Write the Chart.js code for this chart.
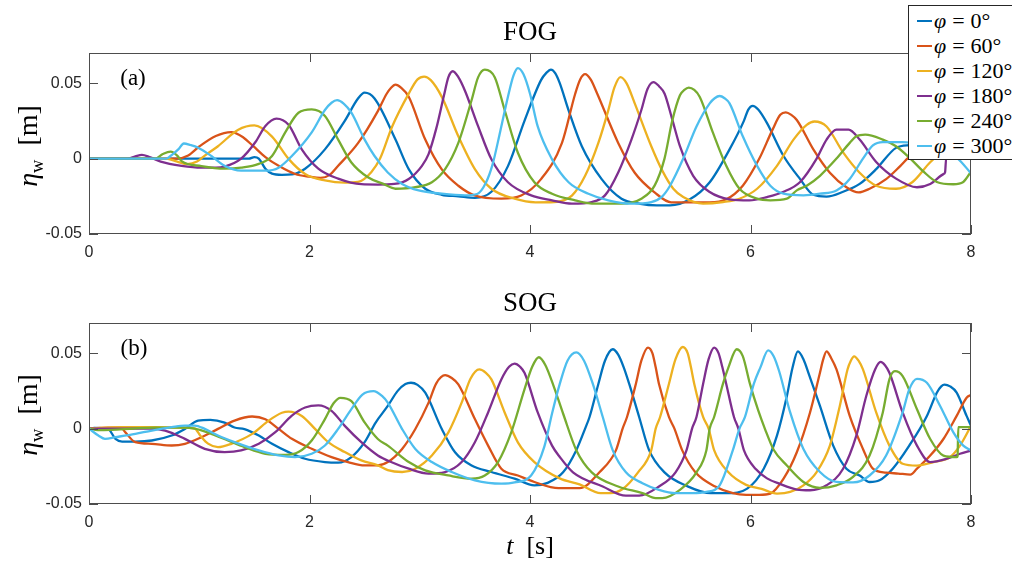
<!DOCTYPE html>
<html>
<head>
<meta charset="utf-8">
<script src="https://cdn.jsdelivr.net/npm/chart.js@4"></script>
<style>
  html, body { margin: 0; padding: 0; background: #fff; overflow: hidden; }
  #wrap { position: relative; width: 1012px; height: 562px; overflow: hidden; }
  canvas { position: absolute; left: 0; }
  .txt { position: absolute; font-family: "Liberation Serif", serif; color: #000; white-space: nowrap; transform: translate(-50%, -50%); line-height: 1; }
  .ylab { transform: translate(-50%, -50%) rotate(-90deg); }
  sub { font-size: 0.66em; vertical-align: -0.3em; line-height: 0; }
  #legend { position: absolute; left: 908px; top: 5px; width: 120px; height: 153px; border: 1px solid #262626; background: #fff; }
  .row { position: absolute; left: 0; height: 25px; line-height: 25px; font-family: "Liberation Serif", serif; font-size: 22px; white-space: nowrap; }
  .row span.ln { position: absolute; left: 8px; top: 12px; width: 15px; height: 2px; }
  .row span.tx { position: absolute; left: 25px; top: 0; }
  .row span.eq { margin: 0 6px; }
</style>
</head>
<body>
<div id="wrap">
  <canvas id="fogChart" width="1012" height="262" style="top:0"></canvas>
  <canvas id="sogChart" width="1012" height="262" style="top:270px"></canvas>

  <div class="txt" style="left:530px; top:31px; font-size:27px">FOG</div>
  <div class="txt" style="left:530px; top:302px; font-size:27px">SOG</div>
  <div class="txt" style="left:133px; top:77px; font-size:23px">(a)</div>
  <div class="txt" style="left:134px; top:347px; font-size:23px">(b)</div>
  <div class="txt ylab" style="left:28px; top:146px; font-size:28px"><i>η</i><sub>w</sub>&nbsp;&nbsp;[m]</div>
  <div class="txt ylab" style="left:28px; top:415px; font-size:28px"><i>η</i><sub>w</sub>&nbsp;&nbsp;[m]</div>
  <div class="txt" style="left:530px; top:546px; font-size:26px"><i>t</i>&nbsp;&nbsp;[s]</div>
  <div id="legend"></div>
</div>

<script>
// axis ticks
const xTicks = [0, 2, 4, 6, 8];
const xTickLabels = ['0', '2', '4', '6', '8'];
const yTicks = [-0.05, 0, 0.05];
const yTickLabels = ['-0.05', '0', '0.05'];

// wave phases, one series each
const phases = [0, 60, 120, 180, 240, 300];
const colors = ['#0072BD', '#D95319', '#EDB120', '#7E2F8E', '#77AC30', '#4DBEEE'];

// (a) FOG, [t (s), eta (m)]
const fog0 = [[0,0],[1.45,0],[1.50,0.001],[1.54,0],[1.60,-0.0067],[1.66,-0.010],[1.75,-0.0108],[1.84,-0.0105],[1.96,-0.0067],[2.14,0.0061],[2.32,0.025],[2.44,0.0398],[2.50,0.0437],[2.59,0.0398],[2.78,0.0126],[2.90,-0.007],[3.05,-0.020],[3.20,-0.024],[3.35,-0.025],[3.50,-0.026],[3.65,-0.022],[3.80,-0.005],[3.95,0.025],[4.10,0.052],[4.15,0.057],[4.19,0.059],[4.23,0.0565],[4.27,0.050],[4.35,0.032],[4.47,0.0082],[4.65,-0.0136],[4.83,-0.0266],[5.0,-0.030],[5.15,-0.031],[5.27,-0.031],[5.45,-0.027],[5.63,-0.0157],[5.81,0.0061],[5.94,0.025],[5.98,0.0325],[6.02,0.035],[6.07,0.0325],[6.15,0.0235],[6.30,0.0017],[6.45,-0.0136],[6.57,-0.024],[6.69,-0.0252],[6.84,-0.022],[6.99,-0.0168],[7.14,-0.007],[7.32,0.0071],[7.45,0.009],[7.65,0.010],[8,0.004]];
const fog60 = [[0,0],[0.8,0],[0.9,0.002],[1.0,0.008],[1.15,0.015],[1.29,0.0176],[1.40,0.014],[1.49,0.0082],[1.60,0.001],[1.72,-0.0048],[1.87,-0.0102],[2.0,-0.012],[2.10,-0.0128],[2.18,-0.011],[2.26,-0.0048],[2.44,0.0102],[2.62,0.0315],[2.70,0.043],[2.74,0.047],[2.78,0.049],[2.83,0.047],[2.90,0.041],[3.05,0.0126],[3.20,-0.0072],[3.35,-0.018],[3.50,-0.0245],[3.74,-0.0266],[3.92,-0.0245],[4.10,-0.0136],[4.29,0.0104],[4.41,0.043],[4.455,0.0525],[4.50,0.056],[4.55,0.0525],[4.61,0.043],[4.80,0.0104],[4.95,-0.0094],[5.13,-0.0224],[5.28,-0.029],[5.45,-0.029],[5.63,-0.029],[5.78,-0.027],[5.93,-0.018],[6.08,0.0],[6.20,0.0192],[6.27,0.029],[6.32,0.0307],[6.37,0.029],[6.42,0.0256],[6.57,0.0061],[6.72,-0.0094],[6.87,-0.019],[6.98,-0.0224],[7.08,-0.020],[7.23,-0.0136],[7.36,-0.0048],[7.45,0.0017],[7.7,0.010],[8,0.012]];
const fog120 = [[0,0],[0.7,0],[0.8,-0.002],[0.89,-0.0037],[0.98,-0.002],[1.05,0.002],[1.17,0.0082],[1.35,0.019],[1.50,0.022],[1.66,0.0146],[1.81,-0.0002],[1.96,-0.0102],[2.14,-0.0145],[2.32,-0.016],[2.44,-0.0155],[2.56,-0.009],[2.64,0.0],[2.75,0.0213],[2.90,0.0431],[2.98,0.0525],[3.04,0.0544],[3.10,0.052],[3.20,0.0409],[3.35,0.0148],[3.50,-0.007],[3.65,-0.020],[3.86,-0.0266],[4.05,-0.029],[4.22,-0.0288],[4.38,-0.0245],[4.50,-0.0114],[4.62,0.0104],[4.71,0.032],[4.765,0.047],[4.82,0.054],[4.875,0.050],[4.95,0.0366],[5.10,0.0082],[5.20,-0.008],[5.30,-0.020],[5.39,-0.0255],[5.57,-0.0298],[5.75,-0.0288],[5.90,-0.0266],[6.06,-0.020],[6.24,-0.0048],[6.39,0.0126],[6.51,0.0224],[6.58,0.0246],[6.69,0.0213],[6.84,0.0041],[6.99,-0.0094],[7.14,-0.018],[7.32,-0.020],[7.47,-0.0155],[7.63,-0.0024],[7.8,0.008],[8,0.012]];
const fog180 = [[0,0],[0.35,0],[0.42,0.0015],[0.48,0.0025],[0.55,0.001],[0.65,-0.002],[0.84,-0.0048],[1.02,-0.006],[1.15,-0.006],[1.23,-0.0053],[1.38,0.0],[1.51,0.011],[1.60,0.0216],[1.70,0.0265],[1.81,0.0224],[1.93,0.0061],[2.08,-0.0067],[2.26,-0.0133],[2.47,-0.017],[2.62,-0.0172],[2.77,-0.0168],[2.90,-0.0135],[3.02,-0.0048],[3.08,0.003],[3.15,0.020],[3.22,0.042],[3.26,0.054],[3.30,0.0579],[3.35,0.054],[3.41,0.045],[3.53,0.0213],[3.65,-0.0005],[3.80,-0.0157],[4.01,-0.0244],[4.20,-0.0277],[4.38,-0.0299],[4.56,-0.0288],[4.68,-0.0244],[4.80,-0.0092],[4.92,0.0126],[5.01,0.0322],[5.065,0.046],[5.12,0.0507],[5.17,0.048],[5.22,0.0431],[5.29,0.026],[5.36,0.0082],[5.48,-0.0114],[5.63,-0.0222],[5.81,-0.027],[5.99,-0.0277],[6.15,-0.0255],[6.30,-0.022],[6.45,-0.0155],[6.60,0.0],[6.69,0.0126],[6.78,0.0192],[6.89,0.0192],[6.99,0.0126],[7.14,-0.0022],[7.32,-0.0133],[7.51,-0.019],[7.63,-0.0168],[7.75,-0.0103],[7.765,-0.009],[7.775,0.0005],[8,0.001]];
const fog240 = [[0,0],[0.6,0],[0.67,0.003],[0.74,0.0046],[0.80,0.002],[0.84,-0.0017],[1.02,-0.005],[1.23,-0.0067],[1.38,-0.006],[1.54,-0.0035],[1.66,0.0017],[1.78,0.0174],[1.90,0.0304],[2.02,0.0326],[2.14,0.0283],[2.26,0.0126],[2.38,-0.0026],[2.53,-0.0124],[2.67,-0.0168],[2.78,-0.020],[2.96,-0.019],[3.11,-0.0157],[3.23,-0.007],[3.35,0.0104],[3.47,0.0387],[3.53,0.054],[3.59,0.059],[3.68,0.054],[3.77,0.0322],[3.89,0.0039],[4.04,-0.0157],[4.20,-0.0233],[4.41,-0.0277],[4.59,-0.0299],[4.83,-0.0299],[5.01,-0.0266],[5.13,-0.0179],[5.22,0.0],[5.29,0.025],[5.36,0.042],[5.40,0.0455],[5.44,0.047],[5.49,0.0455],[5.54,0.0409],[5.66,0.017],[5.78,-0.0048],[5.90,-0.020],[6.06,-0.0266],[6.18,-0.0277],[6.33,-0.0266],[6.42,-0.0211],[6.51,-0.018],[6.63,-0.0114],[6.78,0.0],[6.90,0.0104],[6.96,0.0148],[7.04,0.0159],[7.20,0.0126],[7.32,0.0082],[7.45,0.0],[7.57,-0.0087],[7.69,-0.0155],[7.84,-0.017],[7.93,-0.0155],[8,-0.0087]];
const fog300 = [[0,0],[0.7,0],[0.76,0.003],[0.81,0.0061],[0.86,0.010],[0.92,0.009],[0.99,0.0072],[1.11,0.0017],[1.23,-0.0048],[1.38,-0.008],[1.60,-0.008],[1.72,-0.006],[1.84,0.0017],[2.02,0.0174],[2.14,0.0322],[2.20,0.037],[2.25,0.0387],[2.31,0.0365],[2.38,0.0304],[2.50,0.0126],[2.59,0.0017],[2.71,-0.0092],[2.84,-0.0168],[2.99,-0.0211],[3.20,-0.0233],[3.41,-0.0244],[3.52,-0.0235],[3.60,-0.016],[3.66,-0.004],[3.73,0.018],[3.80,0.041],[3.85,0.055],[3.89,0.060],[3.94,0.056],[4.00,0.043],[4.07,0.0213],[4.20,-0.0005],[4.35,-0.0157],[4.53,-0.0233],[4.71,-0.0277],[4.92,-0.0299],[5.10,-0.0288],[5.20,-0.025],[5.27,-0.018],[5.39,0.0],[5.51,0.0213],[5.63,0.0366],[5.675,0.040],[5.72,0.0415],[5.765,0.040],[5.81,0.0366],[5.93,0.0148],[6.06,-0.0048],[6.18,-0.018],[6.30,-0.0233],[6.48,-0.0244],[6.63,-0.0233],[6.78,-0.0211],[6.90,-0.0135],[7.02,0.0],[7.11,0.0087],[7.20,0.0109],[7.38,0.0109],[7.6,0.008],[7.8,0.003],[7.88,0.0],[8,-0.0098]];

// (b) SOG
const sog0 = [[0,0],[0.05,0.0005],[0.17,0],[0.24,-0.0068],[0.30,-0.0086],[0.42,-0.0086],[0.57,-0.0079],[0.75,-0.0046],[0.87,-0.0002],[0.99,0.0053],[1.10,0.0058],[1.23,0.0040],[1.32,0.0007],[1.41,-0.0003],[1.54,-0.0046],[1.66,-0.0101],[1.81,-0.0156],[1.96,-0.0200],[2.14,-0.0222],[2.26,-0.0226],[2.38,-0.0189],[2.50,-0.0090],[2.60,0.004],[2.71,0.0150],[2.80,0.0250],[2.87,0.0295],[2.92,0.0304],[2.98,0.0290],[3.05,0.0238],[3.20,-0.0003],[3.32,-0.0157],[3.47,-0.0245],[3.65,-0.0288],[3.86,-0.0332],[4.04,-0.0376],[4.16,-0.036],[4.30,-0.029],[4.42,-0.0143],[4.50,0.0],[4.54,0.0077],[4.62,0.0296],[4.68,0.045],[4.75,0.0526],[4.80,0.049],[4.85,0.0406],[4.90,0.0296],[4.99,0.0077],[5.08,-0.0143],[5.22,-0.029],[5.43,-0.0383],[5.64,-0.0428],[5.79,-0.0428],[5.97,-0.0398],[6.12,-0.0266],[6.24,-0.0047],[6.33,0.0216],[6.38,0.040],[6.43,0.0512],[6.48,0.046],[6.53,0.036],[6.63,0.0150],[6.75,-0.0113],[6.87,-0.0266],[6.99,-0.0311],[7.08,-0.0354],[7.17,-0.0343],[7.29,-0.0266],[7.44,-0.0113],[7.60,0.0084],[7.69,0.0238],[7.73,0.0280],[7.76,0.0292],[7.81,0.0280],[7.87,0.0238],[7.96,0.0084],[8,0.0018]];
const sog60 = [[0,0],[0.17,0.0007],[0.29,0.0007],[0.33,-0.0025],[0.42,-0.0090],[0.57,-0.0101],[0.75,-0.0112],[0.87,-0.0101],[1.02,-0.0057],[1.17,-0.0002],[1.32,0.0053],[1.48,0.0080],[1.60,0.0062],[1.72,-0.0002],[1.84,-0.0068],[2.02,-0.0134],[2.20,-0.0189],[2.35,-0.0222],[2.50,-0.0244],[2.62,-0.0244],[2.71,-0.0222],[2.84,-0.0135],[2.96,-0.0003],[3.08,0.0172],[3.15,0.0300],[3.23,0.0354],[3.29,0.0335],[3.35,0.0293],[3.50,0.0063],[3.62,-0.0113],[3.74,-0.0266],[3.89,-0.0311],[4.04,-0.0354],[4.26,-0.0395],[4.45,-0.0395],[4.63,-0.029],[4.78,-0.0143],[4.84,0.0],[4.88,0.0077],[4.96,0.0296],[5.01,0.045],[5.07,0.0537],[5.11,0.050],[5.14,0.0406],[5.17,0.0296],[5.26,0.0077],[5.31,0.0],[5.38,-0.0143],[5.50,-0.029],[5.68,-0.0384],[5.84,-0.0428],[5.96,-0.0439],[6.08,-0.0439],[6.18,-0.0431],[6.30,-0.0332],[6.42,-0.0157],[6.54,0.0107],[6.63,0.0370],[6.66,0.046],[6.69,0.0512],[6.73,0.047],[6.78,0.0392],[6.90,0.0084],[7.02,-0.0135],[7.11,-0.0266],[7.23,-0.0292],[7.34,-0.0298],[7.45,-0.0305],[7.51,-0.0266],[7.63,-0.0179],[7.75,-0.0069],[7.87,0.0084],[7.96,0.0205],[8,0.0223]];
const sog120 = [[0,0],[0.3,0.001],[0.6,0.001],[0.90,0.0005],[0.96,0],[1.01,-0.0047],[1.08,-0.0100],[1.17,-0.0123],[1.29,-0.0101],[1.48,-0.0035],[1.63,0.0053],[1.75,0.0105],[1.81,0.0113],[1.93,0.0084],[2.05,-0.0002],[2.17,-0.0090],[2.32,-0.0156],[2.47,-0.0211],[2.62,-0.0244],[2.71,-0.0276],[2.84,-0.0288],[2.96,-0.0266],[3.11,-0.0179],[3.26,-0.0025],[3.38,0.0172],[3.46,0.0330],[3.54,0.0392],[3.60,0.0370],[3.65,0.0326],[3.77,0.0107],[3.89,-0.0091],[4.04,-0.0222],[4.27,-0.033],[4.45,-0.037],[4.64,-0.0428],[4.73,-0.0428],[4.83,-0.0406],[4.98,-0.029],[5.10,-0.0143],[5.14,0.0],[5.18,0.0077],[5.26,0.0296],[5.32,0.046],[5.385,0.0541],[5.43,0.050],[5.46,0.0406],[5.49,0.0296],[5.57,0.0077],[5.62,0.0],[5.67,-0.0143],[5.80,-0.029],[5.96,-0.0373],[6.10,-0.040],[6.24,-0.0431],[6.36,-0.0420],[6.48,-0.0376],[6.60,-0.0288],[6.72,-0.0113],[6.81,0.0150],[6.88,0.0392],[6.91,0.045],[6.94,0.0479],[6.98,0.045],[7.02,0.0392],[7.14,0.0107],[7.26,-0.0113],[7.38,-0.0233],[7.51,-0.0245],[7.66,-0.0222],[7.81,-0.0189],[7.90,-0.0113],[8,0.0018]];
const sog180 = [[0,0],[0.27,0],[0.55,0],[0.69,-0.0013],[0.87,-0.0068],[1.05,-0.0134],[1.23,-0.0156],[1.38,-0.0145],[1.54,-0.0101],[1.69,-0.0024],[1.84,0.0086],[1.96,0.0140],[2.08,0.0154],[2.20,0.0118],[2.32,0.0018],[2.47,-0.0090],[2.62,-0.0178],[2.74,-0.0222],[2.90,-0.0266],[3.08,-0.0298],[3.23,-0.0288],[3.38,-0.0222],[3.50,-0.0091],[3.62,0.0107],[3.74,0.0326],[3.81,0.0410],[3.86,0.0431],[3.91,0.0410],[3.95,0.0370],[4.07,0.0107],[4.20,-0.0113],[4.27,-0.0188],[4.39,-0.029],[4.66,-0.0384],[4.87,-0.0445],[4.99,-0.0445],[5.17,-0.0384],[5.32,-0.029],[5.42,-0.0143],[5.47,0.0],[5.51,0.0077],[5.57,0.0296],[5.62,0.046],[5.67,0.0537],[5.71,0.050],[5.745,0.0406],[5.78,0.0296],[5.85,0.0077],[5.89,0.0],[5.94,-0.0143],[6.05,-0.027],[6.15,-0.033],[6.26,-0.0365],[6.42,-0.0404],[6.54,-0.0409],[6.69,-0.0376],[6.84,-0.0266],[6.96,-0.0047],[7.05,0.0216],[7.13,0.0392],[7.18,0.0442],[7.22,0.0420],[7.26,0.0370],[7.38,0.0107],[7.51,-0.0113],[7.63,-0.0222],[7.78,-0.0200],[7.90,-0.0167],[8,-0.0145]];
const sog240 = [[0,0],[0.08,-0.001],[0.2,-0.0008],[0.4,0],[0.6,0.0007],[0.85,0.0007],[0.96,0],[1.11,-0.0035],[1.26,-0.0079],[1.41,-0.0123],[1.60,-0.0167],[1.78,-0.0174],[1.90,-0.0156],[2.02,-0.0079],[2.14,0.0063],[2.22,0.0170],[2.28,0.0204],[2.38,0.0182],[2.50,0.0041],[2.62,-0.0069],[2.71,-0.0113],[2.90,-0.0222],[3.05,-0.0277],[3.26,-0.0311],[3.47,-0.0332],[3.59,-0.0311],[3.71,-0.0222],[3.83,-0.0025],[3.95,0.0260],[4.02,0.0410],[4.08,0.0473],[4.14,0.042],[4.22,0.027],[4.30,0.010],[4.42,-0.0143],[4.56,-0.029],[4.80,-0.0384],[5.02,-0.0428],[5.14,-0.0461],[5.20,-0.0461],[5.36,-0.0406],[5.51,-0.029],[5.60,-0.0143],[5.63,0.0],[5.67,0.0077],[5.75,0.0296],[5.80,0.0406],[5.875,0.0526],[5.93,0.048],[5.995,0.0296],[6.07,0.012],[6.13,0.0],[6.21,-0.0140],[6.33,-0.0245],[6.48,-0.0354],[6.63,-0.0393],[6.78,-0.0376],[6.93,-0.0320],[7.08,-0.0179],[7.20,0.0107],[7.26,0.0326],[7.31,0.0381],[7.38,0.0348],[7.51,0.0128],[7.63,-0.0069],[7.75,-0.0179],[7.87,-0.0189],[7.878,-0.0185],[7.885,0.001],[8,0.001]];
const sog300 = [[0,0],[0.085,-0.0046],[0.145,-0.0068],[0.24,-0.0057],[0.42,-0.0035],[0.57,-0.0013],[0.75,0.0009],[0.87,0.0020],[0.96,0.0020],[1.05,-0.0002],[1.17,-0.0046],[1.32,-0.0090],[1.54,-0.0145],[1.72,-0.0178],[1.87,-0.0189],[2.02,-0.0167],[2.14,-0.0112],[2.26,-0.0002],[2.38,0.0129],[2.48,0.0225],[2.58,0.0248],[2.66,0.0215],[2.71,0.0172],[2.84,-0.0003],[2.96,-0.0135],[3.11,-0.0222],[3.29,-0.0288],[3.50,-0.0343],[3.74,-0.0365],[3.86,-0.0357],[4.01,-0.0311],[4.13,-0.012],[4.20,0.010],[4.27,0.0296],[4.34,0.045],[4.42,0.0505],[4.49,0.045],[4.57,0.0296],[4.66,0.0077],[4.75,-0.0143],[4.87,-0.029],[5.02,-0.0362],[5.17,-0.0406],[5.32,-0.0428],[5.47,-0.0428],[5.60,-0.0420],[5.72,-0.0376],[5.84,-0.0143],[5.90,0.0],[5.95,0.0077],[6.03,0.0296],[6.09,0.0406],[6.16,0.0519],[6.21,0.048],[6.26,0.038],[6.36,0.0107],[6.48,-0.0135],[6.63,-0.0288],[6.78,-0.0354],[6.93,-0.0357],[7.08,-0.0311],[7.23,-0.0179],[7.38,0.0107],[7.44,0.0260],[7.51,0.0330],[7.60,0.0304],[7.72,0.0150],[7.84,-0.0025],[7.93,-0.0113],[8,-0.0145]];

const fogSeries = [fog0, fog60, fog120, fog180, fog240, fog300];
const sogSeries = [sog0, sog60, sog120, sog180, sog240, sog300];

// box round the plot + inward ticks on all four sides (matlab style)
const boxPlugin = {
  id: 'box',
  afterDatasetsDraw(chart) {
    const { ctx, chartArea: a, scales: { x, y } } = chart;
    const len = 9;
    ctx.save();
    ctx.strokeStyle = '#4d4d4d';
    ctx.lineWidth = 1;
    ctx.strokeRect(a.left + 0.5, a.top + 0.5, a.right - a.left - 1, a.bottom - a.top - 1);
    ctx.beginPath();
    xTicks.forEach((v) => {
      const px = Math.round(x.getPixelForValue(v)) + 0.5;
      ctx.moveTo(px, a.bottom); ctx.lineTo(px, a.bottom - len);
      ctx.moveTo(px, a.top); ctx.lineTo(px, a.top + len);
    });
    yTicks.forEach((v) => {
      const py = Math.round(y.getPixelForValue(v)) + 0.5;
      ctx.moveTo(a.left, py); ctx.lineTo(a.left + len, py);
      ctx.moveTo(a.right, py); ctx.lineTo(a.right - len, py);
    });
    ctx.stroke();
    ctx.restore();
  }
};

const tickFont = { family: 'Liberation Sans', size: 16 };

function makeChart(id, seriesList) {
  return new Chart(document.getElementById(id), {
    type: 'line',
    data: {
      datasets: seriesList.map((pts, i) => ({
        label: 'φ = ' + phases[i] + '°',
        data: pts.map(([x, y]) => ({ x, y })),
        borderColor: colors[i],
        borderWidth: 2.3,
        borderJoinStyle: 'round',
        pointRadius: 0,
        fill: false,
        cubicInterpolationMode: 'monotone',
        order: seriesList.length - i
      }))
    },
    options: {
      responsive: false,
      animation: false,
      events: [],
      layout: { padding: { top: 53, right: 41, left: 0, bottom: 0 } },
      plugins: { legend: { display: false }, tooltip: { enabled: false }, title: { display: false } },
      scales: {
        x: {
          type: 'linear', min: 0, max: 8,
          grid: { display: false, drawTicks: false },
          border: { display: false },
          afterBuildTicks: (s) => { s.ticks = xTicks.map((v) => ({ value: v })); },
          afterFit: (s) => { s.height = 28; },
          ticks: { padding: 9, color: '#262626', font: tickFont, maxRotation: 0, autoSkip: false,
                   callback: (v, i) => xTickLabels[i] }
        },
        y: {
          type: 'linear', min: -0.05, max: 0.07,
          grid: { display: false, drawTicks: false },
          border: { display: false },
          afterBuildTicks: (s) => { s.ticks = yTicks.map((v) => ({ value: v })); },
          afterFit: (s) => { s.width = 89; },
          ticks: { padding: 7, color: '#262626', font: tickFont, autoSkip: false,
                   callback: (v, i) => yTickLabels[i] }
        }
      }
    },
    plugins: [boxPlugin]
  });
}

makeChart('fogChart', fogSeries);
makeChart('sogChart', sogSeries);

// legend box (sits over the top plot like the matlab one)
const legend = document.getElementById('legend');
phases.forEach((p, i) => {
  const row = document.createElement('div');
  row.className = 'row';
  row.style.top = (2 + i * 25) + 'px';
  row.style.width = '120px';
  row.innerHTML = '<span class="ln" style="background:' + colors[i] + '"></span>' +
    '<span class="tx"><i>φ</i><span class="eq">=</span>' + p + '°</span>';
  legend.appendChild(row);
});
</script>
</body>
</html>
